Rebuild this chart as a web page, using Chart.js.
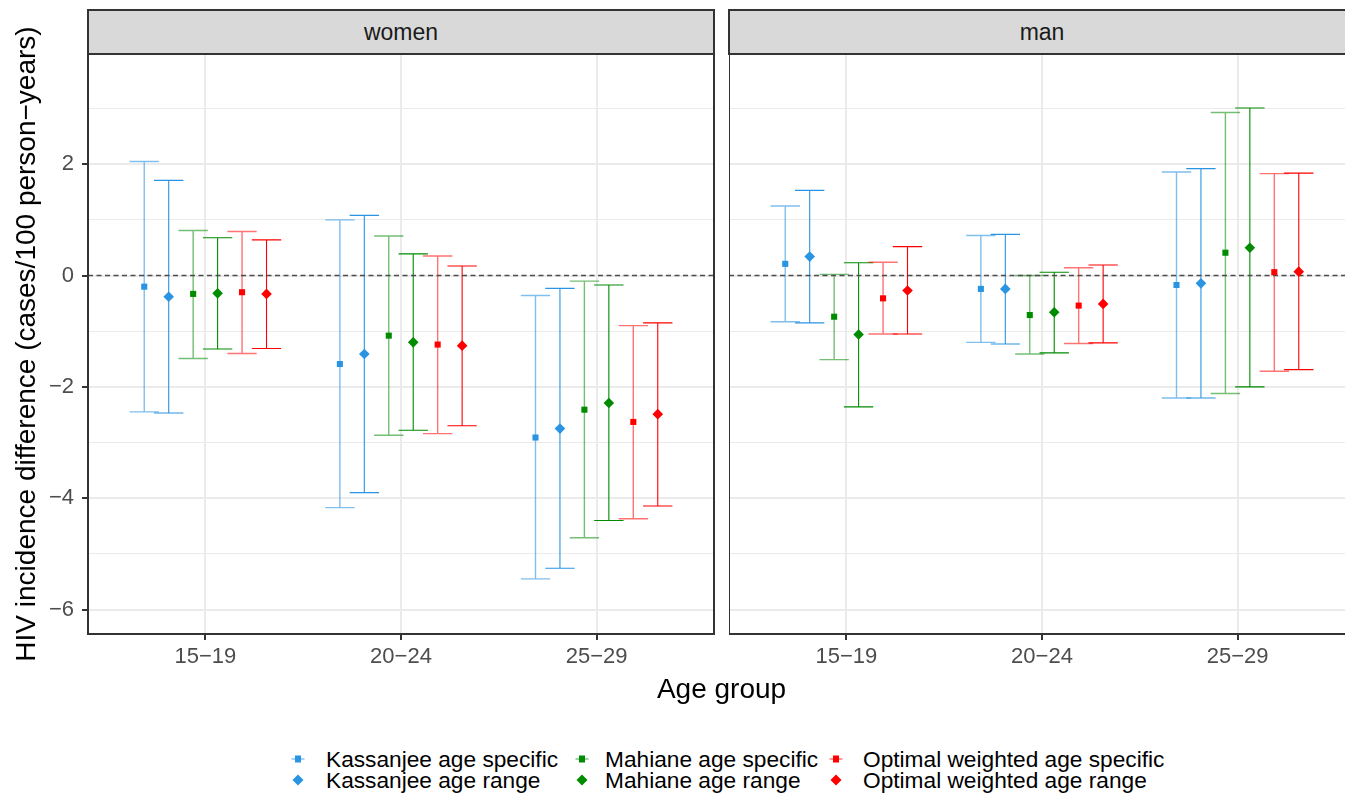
<!DOCTYPE html>
<html>
<head>
<meta charset="utf-8">
<script src="https://cdn.jsdelivr.net/npm/chart.js@4/dist/chart.umd.min.js"></script>
<style>
html,body{margin:0;padding:0;background:#fff;overflow:hidden}
#wrap{position:relative;width:1345px;height:793px;overflow:hidden;background:#fff;font-family:'Liberation Sans',Arial,Helvetica,sans-serif}
canvas{position:absolute;top:0}
.strip{position:absolute;top:9px;height:46px;width:628px;box-sizing:border-box;border:2px solid #333;background:#d9d9d9;color:#1a1a1a;font-size:23px;line-height:42px;text-align:center}
.ytitle{position:absolute;width:700px;height:28px;line-height:28px;font-size:28px;text-align:center;color:#000;transform:rotate(-90deg);white-space:nowrap}
.xtitle{position:absolute;width:400px;height:28px;line-height:28px;font-size:28px;text-align:center;color:#000;white-space:nowrap}
.lg-text{position:absolute;font-size:22.7px;height:24px;line-height:24px;color:#000;white-space:nowrap}
.lg-key{position:absolute;width:20px;height:16px}
</style>
</head>
<body>
<div id="wrap">
  <canvas id="cWomen" width="716" height="680" style="left:0px"></canvas>
  <canvas id="cMan" width="628" height="680" style="left:729px"></canvas>
  <div id="stripWomen" class="strip" style="left:87px"></div>
  <div id="stripMan" class="strip" style="left:728px"></div>
  <div id="yTitle" class="ytitle"></div>
  <div id="xTitle" class="xtitle"></div>
  <div id="legend"></div>
</div>
<script>
// ---------------- DATA ----------------
const categories = ['15−19', '20−24', '25−29'];
const panelNames = ['women', 'man'];
const seriesNames = [
  'Kassanjee age specific', 'Kassanjee age range',
  'Mahiane age specific', 'Mahiane age range',
  'Optimal weighted age specific', 'Optimal weighted age range'
];
const yTickValues = [-6, -5, -4, -3, -2, -1, 0, 1, 2, 3];
const xTickValues = [1, 2, 3];
const yAxisTitle = 'HIV incidence difference (cases/100 person−years)';
const xAxisTitle = 'Age group';

// rows = series (in seriesNames order), columns = categories
const womenEstimate = [
  [-0.20, -1.59, -2.91],
  [-0.38, -1.41, -2.75],
  [-0.33, -1.08, -2.41],
  [-0.32, -1.20, -2.29],
  [-0.30, -1.24, -2.63],
  [-0.33, -1.26, -2.49]
];
const womenLower = [
  [-2.45, -4.17, -5.45],
  [-2.47, -3.90, -5.26],
  [-1.49, -2.87, -4.71],
  [-1.32, -2.78, -4.40],
  [-1.40, -2.84, -4.37],
  [-1.31, -2.70, -4.14]
];
const womenUpper = [
  [2.05, 1.00, -0.36],
  [1.71, 1.08, -0.23],
  [0.81, 0.71, -0.10],
  [0.68, 0.39, -0.17],
  [0.79, 0.35, -0.90],
  [0.64, 0.17, -0.85]
];
const manEstimate = [
  [0.21, -0.24, -0.17],
  [0.34, -0.24, -0.14],
  [-0.74, -0.71, 0.41],
  [-1.06, -0.66, 0.50],
  [-0.41, -0.54, 0.06],
  [-0.27, -0.51, 0.07]
];
const manLower = [
  [-0.83, -1.20, -2.20],
  [-0.85, -1.23, -2.20],
  [-1.51, -1.41, -2.12],
  [-2.36, -1.39, -2.00],
  [-1.05, -1.22, -1.72],
  [-1.05, -1.21, -1.69]
];
const manUpper = [
  [1.25, 0.72, 1.86],
  [1.53, 0.74, 1.92],
  [0.02, 0.00, 2.93],
  [0.23, 0.06, 3.01],
  [0.24, 0.14, 1.83],
  [0.52, 0.19, 1.84]
];

// ---------------- STYLE ----------------
const FONT = "'Liberation Sans', Arial, Helvetica, sans-serif";
const baseColors = ['#2994e2', '#2994e2', '#008b00', '#008b00', '#ff0000', '#ff0000'];
const lightColors = ['rgba(41,148,226,0.6)', 'rgba(41,148,226,0.6)', 'rgba(0,139,0,0.55)', 'rgba(0,139,0,0.55)', 'rgba(255,0,0,0.55)', 'rgba(255,0,0,0.55)'];
const DODGE = 0.75;
const CAP_HALF = 0.075;
const Y_MIN = -6.44, Y_MAX = 3.98;

function isSpecific(i) { return i % 2 === 0; }

const panelPlugin = {
  id: 'panelDecor',
  beforeDatasetsDraw(chart) {
    const { ctx, chartArea: a, scales: { x, y } } = chart;
    ctx.save();
    ctx.beginPath();
    ctx.rect(a.left, a.top, a.width, a.height);
    ctx.clip();
    chart.data.datasets.forEach((ds) => {
      ds.data.forEach((pt, j) => {
        const px = x.getPixelForValue(pt.x);
        const half = x.getPixelForValue(pt.x + CAP_HALF) - px;
        const yl = y.getPixelForValue(ds.errLow[j]);
        const yh = y.getPixelForValue(ds.errHigh[j]);
        ctx.strokeStyle = ds.errColor;
        ctx.lineWidth = ds.errWidth;
        ctx.beginPath();
        ctx.moveTo(px, yl); ctx.lineTo(px, yh);
        ctx.moveTo(px - half, yl); ctx.lineTo(px + half, yl);
        ctx.moveTo(px - half, yh); ctx.lineTo(px + half, yh);
        ctx.stroke();
      });
    });
    const y0 = y.getPixelForValue(0);
    ctx.setLineDash([5, 3.5]);
    ctx.strokeStyle = '#4d4d4d';
    ctx.lineWidth = 1.4;
    ctx.beginPath();
    ctx.moveTo(a.left, y0); ctx.lineTo(a.right, y0);
    ctx.stroke();
    ctx.restore();
  },
  afterDraw(chart) {
    const { ctx, chartArea: a } = chart;
    ctx.save();
    ctx.strokeStyle = '#333333';
    ctx.lineWidth = 2;
    ctx.strokeRect(a.left, a.top, a.width, a.height);
    ctx.restore();
  }
};

function makePanel(canvasId, est, low, high, showY) {
  const datasets = seriesNames.map((name, s) => ({
    label: name,
    data: categories.map((c, j) => ({ x: xTickValues[j] + (s - (seriesNames.length - 1) / 2) * DODGE / seriesNames.length, y: est[s][j] })),
    errLow: low[s],
    errHigh: high[s],
    errColor: isSpecific(s) ? lightColors[s] : baseColors[s],
    errWidth: isSpecific(s) ? 1.4 : 1.1,
    pointStyle: isSpecific(s) ? 'rect' : 'rectRot',
    pointRadius: isSpecific(s) ? 4.3 : 5.3,
    pointHoverRadius: isSpecific(s) ? 4.3 : 5.3,
    backgroundColor: baseColors[s],
    borderColor: baseColors[s],
    borderWidth: 0,
    showLine: false
  }));
  return new Chart(document.getElementById(canvasId), {
    type: 'scatter',
    data: { datasets },
    plugins: [panelPlugin],
    options: {
      responsive: false,
      animation: false,
      devicePixelRatio: 1,
      events: [],
      layout: { autoPadding: false, padding: { top: 54, right: 2, bottom: 0, left: 0 } },
      plugins: { legend: { display: false }, tooltip: { enabled: false }, title: { display: false } },
      scales: {
        x: {
          type: 'linear', min: 0.4, max: 3.6,
          afterBuildTicks: (sc) => { sc.ticks = xTickValues.map(v => ({ value: v })); },
          afterFit: (sc) => { sc.height = 46; },
          border: { display: false },
          grid: { color: '#ebebeb', lineWidth: 2, drawTicks: true, tickLength: 6, tickColor: '#333333', tickWidth: 2 },
          ticks: {
            autoSkip: false, maxRotation: 0, padding: 4, color: '#4d4d4d',
            font: { family: FONT, size: 22 },
            callback: (v) => categories[xTickValues.indexOf(v)] || ''
          }
        },
        y: {
          type: 'linear', min: Y_MIN, max: Y_MAX,
          afterBuildTicks: (sc) => { sc.ticks = yTickValues.map(v => ({ value: v })); },
          afterFit: (sc) => { sc.width = showY ? 88 : 0; },
          border: { display: false },
          grid: {
            color: '#ebebeb',
            lineWidth: (c) => (c.tick && c.tick.value % 2 === 0) ? 2 : 1,
            drawTicks: showY, tickLength: 6, tickWidth: 2,
            tickColor: (c) => (c.tick && c.tick.value % 2 === 0) ? '#333333' : 'rgba(0,0,0,0)'
          },
          ticks: {
            display: showY, padding: 8, color: '#4d4d4d',
            font: { family: FONT, size: 22 },
            callback: (v) => (v % 2 === 0) ? String(v).replace('-', '−') : ''
          }
        }
      }
    }
  });
}

makePanel('cWomen', womenEstimate, womenLower, womenUpper, true);
makePanel('cMan', manEstimate, manLower, manUpper, false);

// ---------------- TEXT / LEGEND ----------------
document.getElementById('stripWomen').textContent = panelNames[0];
document.getElementById('stripMan').textContent = panelNames[1];
const yt = document.getElementById('yTitle');
yt.textContent = yAxisTitle;
yt.style.left = (26.3 - 350) + 'px';
yt.style.top = (344 - 14) + 'px';
const xt = document.getElementById('xTitle');
xt.textContent = xAxisTitle;
xt.style.left = (721.5 - 200) + 'px';
xt.style.top = '675px';

const legendKeyX = [297.5, 582, 836];
const legendTextX = [326, 605, 863];
const legendRowY = [759, 780];
const lg = document.getElementById('legend');
seriesNames.forEach((name, s) => {
  const col = Math.floor(s / 2), row = s % 2;
  const cx = legendKeyX[col], cy = legendRowY[row];
  const key = document.createElementNS('http://www.w3.org/2000/svg', 'svg');
  key.setAttribute('class', 'lg-key');
  key.setAttribute('width', '20'); key.setAttribute('height', '16');
  key.style.left = (cx - 10) + 'px';
  key.style.top = (cy - 8) + 'px';
  if (isSpecific(s)) {
    key.innerHTML = '<line x1="3.5" y1="8" x2="16.5" y2="8" stroke="' + lightColors[s] + '" stroke-width="1.4"/>' +
      '<rect x="7" y="4.5" width="6" height="7" fill="' + baseColors[s] + '"/>';
  } else {
    key.innerHTML = '<polygon points="10,2.5 15.5,8 10,13.5 4.5,8" fill="' + baseColors[s] + '"/>';
  }
  lg.appendChild(key);
  const t = document.createElement('div');
  t.className = 'lg-text';
  t.textContent = name;
  t.style.left = legendTextX[col] + 'px';
  t.style.top = (cy - 12) + 'px';
  lg.appendChild(t);
});
</script>
</body>
</html>
